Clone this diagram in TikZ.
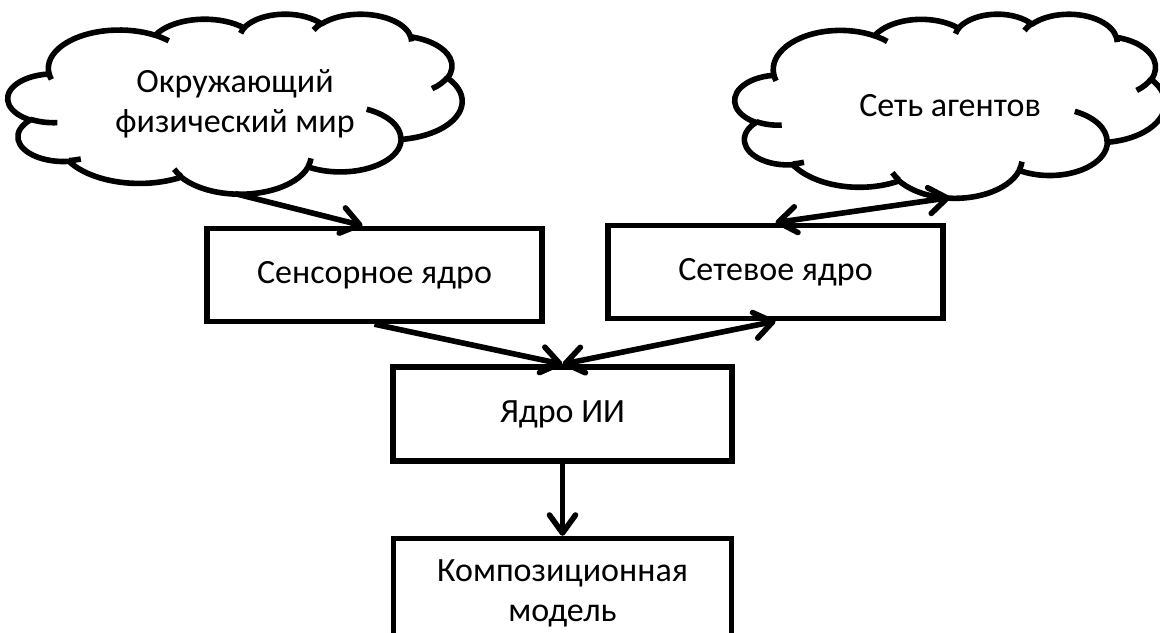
\documentclass[tikz,border=0pt]{standalone}
\usepackage{fontspec}
\setmainfont{Carlito}
\usepackage{tikz}
\usetikzlibrary{positioning,arrows.meta,calc}
\newcommand{\puff}[4]{arc[x radius=#1, y radius=#2, start angle={atan2(#1*sin(#3),#2*cos(#3))}, delta angle={mod(atan2(#1*sin(#3+#4),#2*cos(#3+#4))-atan2(#1*sin(#3),#2*cos(#3))+720,360)}]}
\newcommand{\cloudoutline}[3]{%
  \begin{scope}[shift={(#1.north west)}, x=#2, y=-#3]
    \draw[cloudline] (390,1437) \puff{675.3}{919.0}{-190.4875}{123.7805} \puff{533.3}{726.7}{-144.1024}{89.9452}
      \puff{436.5}{594.5}{-145.8079}{99.7230} \puff{485.7}{659.5}{-130.9861}{117.2417}
      \puff{533.3}{727.3}{-78.7089}{109.0269} \puff{677.5}{922.0}{-46.2673}{130.2690}
      \puff{578.5}{786.7}{0.6250}{114.0333} \puff{675.2}{921.5}{22.4516}{115.1726}
      \puff{772.0}{1054.3}{66.2426}{75.7110} \puff{436.0}{591.8}{-274.9421}{146.7356}
      \puff{434.5}{594.5}{-246.8285}{152.5189} -- cycle;
    \draw[cloudline] (469.3,2617.7) \puff{434.5}{594.5}{86.7420}{26.4295}
      (692.8,3489.9) \puff{436.0}{591.8}{73.6105}{11.4475}
      (1647.8,3909.0) \puff{675.2}{921.5}{137.6242}{14.0811}
      (2882.7,3475.1) \puff{675.2}{921.5}{6.4533}{15.9984}
      (3412.9,2295.4) \puff{578.5}{786.7}{-70.2924}{70.9174}
      (4179.8,1535.4) \puff{533.3}{727.3}{30.3180}{27.7515}
      (3832.4,542.6) \puff{485.7}{659.5}{-13.7443}{14.8589}
      (2907.8,395.2) \puff{485.7}{659.5}{-149.1815}{18.1954}
      (2214.1,472.0) \puff{436.5}{594.5}{-163.4943}{17.6864}
      (1400.0,519.2) \puff{675.3}{919.0}{-66.7070}{12.3194}
      (412.7,1578.9) \puff{675.3}{919.0}{157.6544}{11.8582};
  \end{scope}}
\tikzset{
  corebox/.style={draw=black, line width=2.8pt, align=center, fill=white, minimum width=167.5pt, minimum height=46.5pt, inner sep=2pt, font=\fontsize{17}{20}\selectfont},
  cloudnode/.style={align=center, inner sep=0pt, outer sep=0pt, font=\fontsize{17}{20}\selectfont},
  cloudline/.style={draw=black, line width=2.8pt, line join=round},
  flowarrow/.style={-{Straight Barb[length=9pt,width=13pt,round]}, line width=2.8pt, draw=black},
  duplexarrow/.style={{Straight Barb[length=9pt,width=13pt,round]}-{Straight Barb[length=9pt,width=13pt,round]}, line width=2.8pt, draw=black}
}
\begin{document}
\begin{tikzpicture}[x=0.5pt, y=-0.5pt, node distance=20pt and 20pt]
  \useasboundingbox (0,0) rectangle (1160,632);
  \node[corebox, minimum width=169.5pt, minimum height=47pt] (core) at (562.5,414) {Ядро ИИ};
  \node[corebox, below=36pt of core, minimum width=169pt, minimum height=55pt] (model) {Композиционная\\модель};
  \node[corebox, above=20pt of core, xshift=-94pt] (sensor) {Сенсорное ядро};
  \node[corebox, above=21.5pt of core, xshift=106.5pt] (network) {Сетевое ядро};
  \node[cloudnode, above=16pt of sensor, xshift=-69.75pt, minimum width=227pt, minimum height=90pt] (world) {Окружающий\\физический мир};
  \node[cloudnode, above=12.5pt of network, xshift=87.25pt, minimum width=215pt, minimum height=92pt] (agents) {Сеть агентов};
  \cloudoutline{world}{0.052546pt}{0.020833pt}
  \cloudoutline{agents}{0.049769pt}{0.021296pt}
  \draw[flowarrow] (world.south) -- ($(sensor.north)+(-12,0)$);
  \draw[duplexarrow] (agents.south) -- (network.north);
  \draw[flowarrow] (sensor.south) -- (core.north);
  \draw[duplexarrow] (core.north) -- (network.south);
  \draw[flowarrow] (core.south) -- (model.north);
\end{tikzpicture}
\end{document}
